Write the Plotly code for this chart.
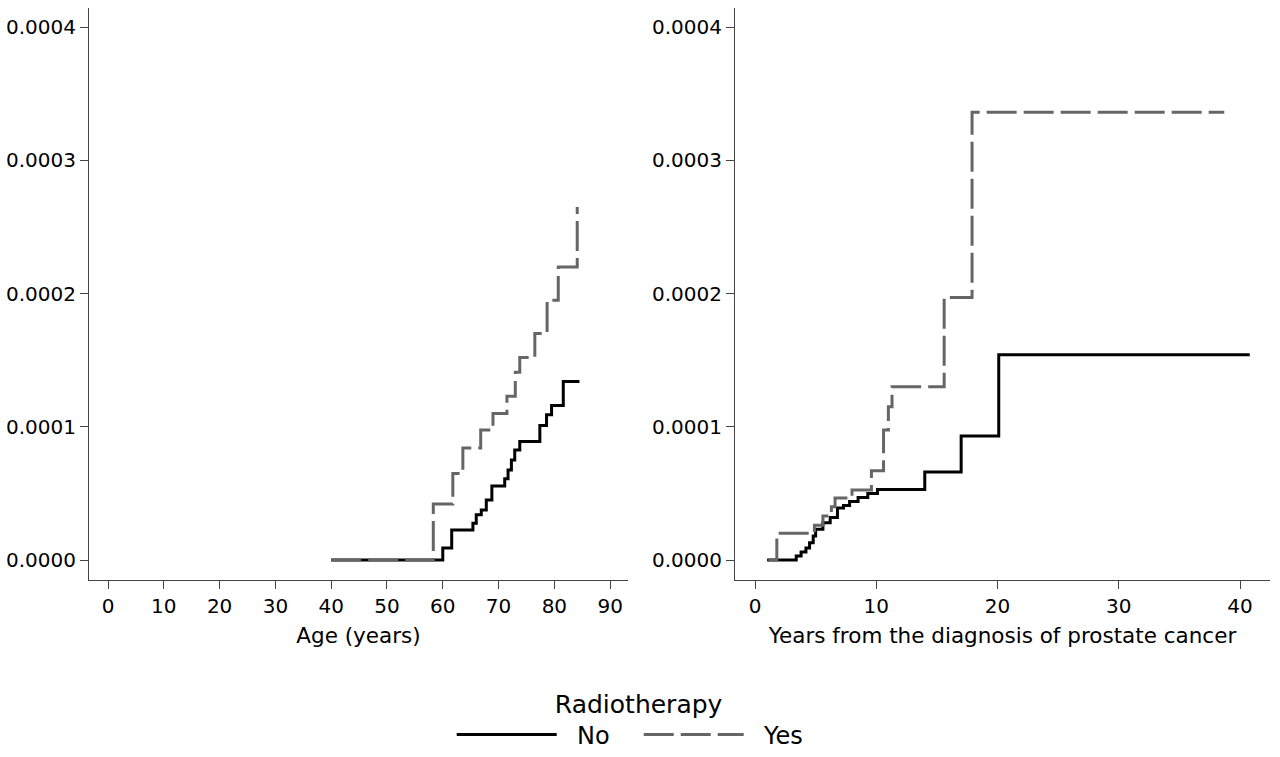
import plotly.graph_objects as go

# ---- data ----
age_no = [40, 60.0, 61.6, 65.4, 66.0, 66.9, 67.8, 68.8, 71.1, 71.7, 72.3, 72.9, 73.8, 77.4, 78.6, 79.5, 81.6, 84.5]
inc_age_no = [0, 9e-6, 2.25e-5, 2.75e-5, 3.4e-5, 3.75e-5, 4.5e-5, 5.55e-5, 6.1e-5, 6.75e-5, 7.5e-5, 8.25e-5,
              8.9e-5, 1.01e-4, 1.09e-4, 1.16e-4, 1.34e-4, 1.34e-4]

age_yes = [40, 58.3, 61.8, 63.6, 66.8, 69.0, 71.5, 73.0, 73.8, 76.5, 78.7, 80.7, 84.1]
inc_age_yes = [0, 4.2e-5, 6.5e-5, 8.4e-5, 9.75e-5, 1.1e-4, 1.23e-4, 1.41e-4, 1.52e-4, 1.7e-4, 1.95e-4, 2.2e-4, 2.65e-4]

yrs_no = [1.0, 3.4, 3.8, 4.2, 4.5, 4.8, 5.0, 5.6, 6.2, 6.8, 7.3, 7.8, 8.5, 9.3, 10.1, 14.0, 17.0, 20.1, 40.8]
inc_yrs_no = [0, 3e-6, 6e-6, 9e-6, 1.3e-5, 1.8e-5, 2.3e-5, 2.8e-5, 3.2e-5, 3.9e-5, 4.1e-5, 4.4e-5, 4.7e-5,
              5.0e-5, 5.3e-5, 6.6e-5, 9.3e-5, 1.54e-4, 1.54e-4]

yrs_yes = [1.1, 1.8, 4.9, 5.6, 6.3, 6.6, 8.0, 9.6, 10.6, 11.0, 11.3, 15.6, 17.9, 38.7]
inc_yrs_yes = [0, 2.0e-5, 2.6e-5, 3.3e-5, 4.0e-5, 4.65e-5, 5.25e-5, 6.7e-5, 9.75e-5, 1.15e-4, 1.3e-4,
               1.97e-4, 3.36e-4, 3.36e-4]

y_ticks = [0, 0.0001, 0.0002, 0.0003, 0.0004]
age_ticks = [0, 10, 20, 30, 40, 50, 60, 70, 80, 90]
yrs_ticks = [0, 10, 20, 30, 40]

FONT = "DejaVu Sans"
BLACK = "#000000"
GRAY = "#666666"
AX = "#444444"
NB = "\u00a0\u00a0"

fig = go.Figure()
fig.add_trace(go.Scatter(x=age_no, y=inc_age_no, mode="lines", line=dict(shape="hv", color=BLACK, width=3),
                         name=NB + "No", legendgroup="no", xaxis="x", yaxis="y"))
fig.add_trace(go.Scatter(x=age_yes, y=inc_age_yes, mode="lines",
                         line=dict(shape="hv", color=GRAY, width=3, dash="30px,7px"),
                         name=NB + "Yes", legendgroup="yes", xaxis="x", yaxis="y"))
fig.add_trace(go.Scatter(x=yrs_no, y=inc_yrs_no, mode="lines", line=dict(shape="hv", color=BLACK, width=3),
                         name="No", legendgroup="no", showlegend=False, xaxis="x2", yaxis="y2"))
fig.add_trace(go.Scatter(x=yrs_yes, y=inc_yrs_yes, mode="lines",
                         line=dict(shape="hv", color=GRAY, width=3, dash="30px,7px"),
                         name="Yes", legendgroup="yes", showlegend=False, xaxis="x2", yaxis="y2"))

W, H = 1280, 757
ydom = [1 - 580 / H, 1 - 8 / H]

axis_common = dict(showline=True, linecolor=AX, linewidth=1, ticks="outside", ticklen=8, tickcolor=AX,
                   tickwidth=1, showgrid=False, zeroline=False, tickfont=dict(family=FONT, size=20, color="#000"))

fig.update_layout(
    width=W, height=H,
    margin=dict(l=0, r=0, t=0, b=0, autoexpand=False),
    paper_bgcolor="white", plot_bgcolor="white",
    font=dict(family=FONT, color="#000"),
    xaxis=dict(domain=[89 / W, 628 / W], range=[-3.41, 93.2], tickvals=age_ticks, anchor="y",
               title=dict(text="Age (years)", font=dict(family=FONT, size=21.5), standoff=10), **axis_common),
    yaxis=dict(domain=ydom, range=[-1.5e-5, 0.0004143], tickvals=y_ticks, tickformat=".4f", anchor="x",
               **axis_common),
    xaxis2=dict(domain=[735 / W, 1270 / W], range=[-1.65, 42.47], tickvals=yrs_ticks, anchor="y2",
                title=dict(text="Years from the diagnosis of prostate cancer", font=dict(family=FONT, size=21.5),
                           standoff=10), **axis_common),
    yaxis2=dict(domain=ydom, range=[-1.5e-5, 0.0004143], tickvals=y_ticks, tickformat=".4f", anchor="x2",
                **axis_common),
    legend=dict(orientation="h", x=0.499, xanchor="center", y=1 - 680 / H, yanchor="top",
                title=dict(text="Radiotherapy", side="top center", font=dict(family=FONT, size=25)),
                font=dict(family=FONT, size=24), itemwidth=100, entrywidth=72, entrywidthmode="pixels",
                bgcolor="rgba(0,0,0,0)"),
    showlegend=True,
)

fig.write_html("out.html")
